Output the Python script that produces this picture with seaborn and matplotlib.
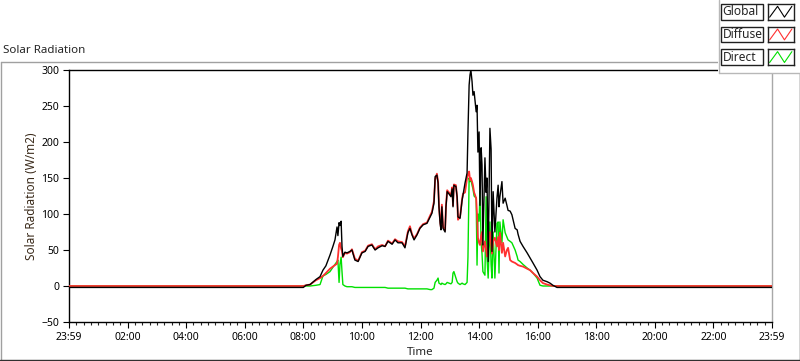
import numpy as np
import matplotlib
matplotlib.use("Agg")
import matplotlib.pyplot as plt
import seaborn as sns
from matplotlib.patches import Rectangle
from matplotlib.lines import Line2D

# Tijdstippen (uren na middernacht) en gemeten straling (W/m2)
time_h = [0.00, 8.00, 8.09, 8.23, 8.43, 8.57, 8.67, 8.77, 8.91, 9.01, 9.08, 9.15,
          9.18, 9.22, 9.25, 9.29, 9.32, 9.35, 9.42, 9.49, 9.59, 9.66, 9.76, 9.87,
          10.00, 10.11, 10.21, 10.34, 10.45, 10.55, 10.69, 10.79, 10.89, 11.03,
          11.13, 11.23, 11.37, 11.47, 11.57, 11.64, 11.71, 11.78, 11.88, 11.98,
          12.09, 12.22, 12.33, 12.39, 12.46, 12.50, 12.56, 12.60, 12.63, 12.67,
          12.70, 12.73, 12.77, 12.84, 12.87, 12.91, 12.97, 13.04, 13.08, 13.11,
          13.14, 13.21, 13.25, 13.28, 13.35, 13.42, 13.45, 13.52, 13.59, 13.62,
          13.66, 13.69, 13.72, 13.76, 13.79, 13.83, 13.90, 13.93, 13.96, 14.00,
          14.03, 14.07, 14.10, 14.13, 14.20, 14.24, 14.27, 14.31, 14.37, 14.41,
          14.44, 14.48, 14.54, 14.61, 14.65, 14.68, 14.71, 14.78, 14.82, 14.89,
          14.95, 14.99, 15.06, 15.12, 15.23, 15.30, 15.33, 15.40, 15.50, 15.64,
          15.74, 15.84, 15.98, 16.08, 16.18, 16.32, 16.42, 16.52, 16.66, 24.00]

global_rad = [-2, -2, 1, 2, 9, 13, 22, 28, 43, 55, 64, 82,
              70, 88, 84, 90, 55, 41, 47, 46, 48, 50, 36, 34,
              46, 48, 55, 57, 50, 53, 56, 55, 62, 58,
              64, 60, 60, 53, 74, 80, 71, 64, 71, 80,
              85, 87, 96, 101, 115, 152, 154, 143, 110, 87,
              78, 110, 80, 75, 110, 131, 128, 124, 135, 110,
              140, 138, 124, 96, 94, 119, 126, 143, 157, 214,
              279, 293, 300, 284, 265, 270, 242, 251, 186, 214,
              112, 192, 168, 57, 178, 130, 150, 34, 219, 190,
              48, 131, 75, 122, 140, 110, 124, 145, 115, 122,
              112, 105, 104, 99, 80, 78, 72, 62, 55, 46,
              39, 32, 22, 13, 8, 6, 4, 1, -2, -2]

diffuse_rad = [0, 0, 1, 2, 8, 11, 14, 18, 24, 27, 29, 31,
               40, 57, 60, 52, 48, 40, 46, 45, 47, 51, 38, 35,
               47, 49, 56, 58, 51, 55, 57, 55, 63, 59,
               65, 62, 61, 55, 76, 83, 72, 66, 72, 81,
               86, 88, 98, 103, 118, 148, 156, 145, 112, 90,
               80, 113, 82, 77, 112, 133, 130, 126, 137, 112,
               141, 140, 122, 92, 96, 121, 128, 130, 150, 155,
               159, 147, 150, 145, 140, 130, 122, 99, 67, 60,
               57, 70, 75, 48, 62, 50, 41, 57, 75, 60,
               45, 62, 67, 55, 68, 50, 74, 46, 60, 41,
               50, 53, 36, 34, 32, 30, 29, 28, 27, 24,
               22, 18, 13, 8, 4, 2, 1, 0, 0, 0]

direct_rad = [0, 0, 0, 0, 1, 2, 14, 16, 20, 26, 30, 34,
              36, 5, 30, 40, 20, 2, 0, -1, -1, -1, -2, -2,
              -2, -2, -2, -2, -2, -2, -2, -2, -3, -3,
              -3, -3, -3, -3, -4, -4, -4, -4, -4, -4,
              -4, -4, -5, -5, -3, 5, 8, 11, 4, 3,
              2, 4, 3, 2, 3, 5, 4, 3, 5, 18,
              20, 11, 6, 4, 2, 4, 3, 2, 5, 40,
              150, 145, 148, 140, 135, 125, 122, 29, 100, 90,
              131, 60, 45, 20, 15, 124, 40, 11, 89, 30,
              11, 75, 11, 87, 89, 18, 89, 60, 92, 74,
              68, 64, 62, 60, 50, 41, 36, 34, 30, 25,
              22, 18, 11, 1, 0, 0, 0, 0, 0, 0]

series_names = ["Global", "Diffuse", "Direct"]
series_colors = ["#000000", "#ff3030", "#00e000"]

tick_hours = [0, 2, 4, 6, 8, 10, 12, 14, 16, 18, 20, 22, 24]
tick_labels = ["23:59", "02:00", "04:00", "06:00", "08:00", "10:00", "12:00",
               "14:00", "16:00", "18:00", "20:00", "22:00", "23:59"]

sns.set_style("white")
plt.rcParams["font.family"] = ["Noto Sans", "DejaVu Sans"]

W, H = 800, 361
fig = plt.figure(figsize=(W / 100, H / 100), dpi=100)
ax = fig.add_axes([69 / W, 1 - 322 / H, (772 - 69) / W, (322 - 70) / H])

# volgorde: direct onder, dan diffuus, globaal bovenop
for name, vals, col, z, lw in [("Direct", direct_rad, series_colors[2], 2, 1.0),
                               ("Diffuse", diffuse_rad, series_colors[1], 3, 1.3),
                               ("Global", global_rad, series_colors[0], 4, 1.0)]:
    sns.lineplot(x=time_h, y=vals, ax=ax, color=col, lw=lw, zorder=z,
                 estimator=None, legend=False)

ax.set_xlim(0, 24)
ax.set_ylim(-50, 300)
ax.set_yticks(np.arange(-50, 301, 50))
ax.set_xticks(tick_hours)
ax.set_xticklabels(tick_labels)
ax.set_xticks(np.arange(0, 24.01, 0.25), minor=True)
ax.tick_params(axis="both", which="major", direction="out", length=4.5, width=0.8,
               labelsize=7.5, colors="black", pad=2.5, bottom=True, left=True)
ax.tick_params(axis="x", which="minor", direction="out", length=2.5, width=0.8,
               bottom=True)
ax.set_xlabel("Time", fontsize=8.3)
ax.xaxis.set_label_coords(0.5, -0.098)
ax.set_ylabel("Solar Radiation (W/m2)", fontsize=8.5, color="#3a2a1a", labelpad=2)
for side in ["left", "bottom", "top"]:
    ax.spines[side].set_color("black")
    ax.spines[side].set_linewidth(1.0)
ax.spines["right"].set_color("#a8a8a8")
ax.spines["right"].set_linewidth(1.0)

# paneelrand
def fx(px):
    return px / W

def fy(py):
    return 1 - py / H

fig.add_artist(Line2D([fx(0.5), fx(718)], [fy(61.5), fy(61.5)], color="#a0a0a0", lw=1))
fig.add_artist(Line2D([fx(0.5), fx(0.5)], [fy(61.5), fy(360)], color="#a0a0a0", lw=1))
fig.add_artist(Line2D([fx(0), fx(800)], [fy(359.5), fy(359.5)], color="#303030", lw=1))
fig.add_artist(Line2D([fx(799.5), fx(799.5)], [fy(72), fy(360)], color="#303030", lw=1))
fig.text(fx(3), fy(50.5), "Solar Radiation", fontsize=8.3, ha="left", va="center")

# legenda-paneel
fig.add_artist(Rectangle((fx(718), fy(72.5)), fx(82), 72.5 / H, facecolor="white",
                         edgecolor="none", zorder=5))
fig.add_artist(Line2D([fx(718.5), fx(718.5)], [fy(0), fy(72.5)], color="#b8b8b8", lw=1, zorder=6))
fig.add_artist(Line2D([fx(718.5), fx(800)], [fy(72.5), fy(72.5)], color="#b8b8b8", lw=1, zorder=6))

row_tops = [4, 26.7, 49.3]
for name, col, top in zip(series_names, series_colors, row_tops):
    h = 15.5
    fig.add_artist(Rectangle((fx(720.5), fy(top + h)), fx(42.5), h / H, facecolor="white",
                             edgecolor="#202020", lw=1, zorder=7))
    fig.text(fx(722.5), fy(top + h / 2), name, fontsize=8.6, ha="left", va="center", zorder=8)
    iax = fig.add_axes([fx(767.5), fy(top + h), fx(26.5), h / H], zorder=7)
    iax.plot([0.08, 0.38, 0.64, 0.92], [0.15, 0.85, 0.15, 0.85], color=col, lw=0.8)
    iax.set_xlim(0, 1)
    iax.set_ylim(0, 1)
    iax.set_xticks([])
    iax.set_yticks([])
    for s in iax.spines.values():
        s.set_color("#202020")
        s.set_linewidth(1.0)

fig.savefig("out.png", dpi=100)
